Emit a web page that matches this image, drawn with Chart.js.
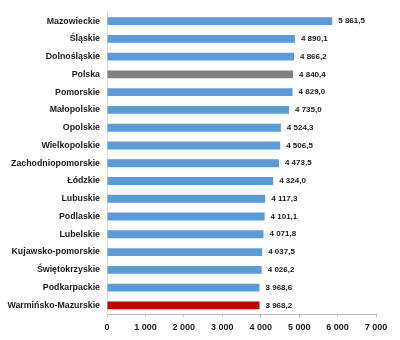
<!DOCTYPE html>
<html>
<head>
<meta charset="utf-8">
<script src="https://cdn.jsdelivr.net/npm/chart.js@4"></script>
<style>
  html, body { margin: 0; padding: 0; background: #fff; }
  #wrap { width: 400px; height: 340px; position: relative; }
</style>
</head>
<body>
<div id="wrap"><canvas id="chart"></canvas></div>
<script>
const regions = [
  'Mazowieckie', 'Śląskie', 'Dolnośląskie', 'Polska', 'Pomorskie', 'Małopolskie',
  'Opolskie', 'Wielkopolskie', 'Zachodniopomorskie', 'Łódzkie', 'Lubuskie',
  'Podlaskie', 'Lubelskie', 'Kujawsko-pomorskie', 'Świętokrzyskie', 'Podkarpackie',
  'Warmińsko-Mazurskie'
];
const values = [
  5861.5, 4890.1, 4866.2, 4840.4, 4829.0, 4735.0,
  4524.3, 4506.5, 4473.5, 4324.0, 4117.3,
  4101.1, 4071.8, 4037.5, 4026.2, 3968.6,
  3968.2
];
const xTicks = [0, 1000, 2000, 3000, 4000, 5000, 6000, 7000];

const BLUE = '#5a9bd8';
const GREY = '#808080';
const RED = '#c00000';

const barColors = regions.map(r => r === 'Polska' ? GREY : (r === 'Warmińsko-Mazurskie' ? RED : BLUE));

// 5 861,5 style: space for thousands, comma for decimals
function fmt(v, dec) {
  const s = v.toFixed(dec).split('.');
  const whole = s[0].replace(/\B(?=(\d{3})+(?!\d))/g, ' ');
  return dec ? whole + ',' + s[1] : whole;
}

const FAMILY = '"Liberation Sans", Arial, sans-serif';
const labelFont = 'bold 8px ' + FAMILY;

const valueLabels = {
  id: 'valueLabels',
  afterDatasetsDraw(chart) {
    const ctx = chart.ctx;
    const meta = chart.getDatasetMeta(0);
    ctx.save();
    ctx.font = labelFont;
    ctx.fillStyle = '#1a1a1a';
    ctx.textBaseline = 'middle';
    ctx.textAlign = 'left';
    meta.data.forEach((bar, i) => {
      ctx.fillText(fmt(values[i], 1), bar.x + 6, bar.y);
    });
    ctx.restore();
  }
};

new Chart(document.getElementById('chart'), {
  type: 'bar',
  data: {
    labels: regions,
    datasets: [{
      data: values,
      backgroundColor: barColors,
      categoryPercentage: 1,
      barPercentage: 0.44
    }]
  },
  options: {
    indexAxis: 'y',
    responsive: true,
    maintainAspectRatio: false,
    animation: false,
    layout: { padding: { top: 12, right: 24, bottom: 2, left: 0 } },
    plugins: {
      legend: { display: false },
      tooltip: { enabled: false }
    },
    scales: {
      x: {
        min: 0,
        max: 7000,
        afterBuildTicks: axis => { axis.ticks = xTicks.map(v => ({ value: v })); },
        grid: { drawOnChartArea: false, drawTicks: true, tickLength: 3, color: '#bfbfbf' },
        border: { display: true, color: '#bfbfbf' },
        ticks: {
          color: '#1a1a1a',
          padding: 5,
          font: { family: FAMILY, size: 9, weight: 'bold' },
          callback: v => fmt(v, 0),
          maxRotation: 0
        }
      },
      y: {
        afterFit: axis => { axis.width = 107; },
        grid: { display: false, drawTicks: false },
        border: { display: true, color: '#d9d9d9' },
        ticks: {
          color: '#1a1a1a',
          padding: 7,
          font: { family: FAMILY, size: 8.8, weight: 'bold' }
        }
      }
    }
  },
  plugins: [valueLabels]
});
</script>
</body>
</html>
